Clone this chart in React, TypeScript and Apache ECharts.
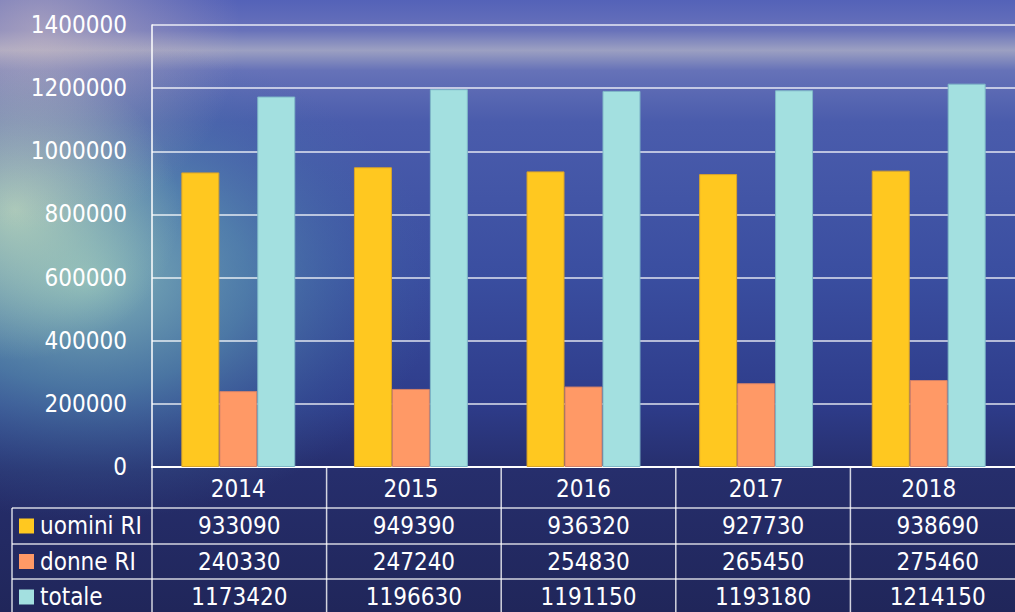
import React, { useEffect, useRef } from "react";
import * as echarts from "echarts";

const years = ["2014", "2015", "2016", "2017", "2018"];
const seriesNames = ["uomini RI", "donne RI", "totale"];
const uomini = [933090, 949390, 936320, 927730, 938690];
const donne = [240330, 247240, 254830, 265450, 275460];
const totale = [1173420, 1196630, 1191150, 1193180, 1214150];
const yMin = 0;
const yMax = 1400000;
const yStep = 200000;

const colors = ["#FFC820", "#FF9966", "#A3E0E0"];
const borders = ["#D9A32A", "#D0806A", "#7FB8C8"];
const FONT = "'DejaVu Sans Condensed', 'DejaVu Sans', sans-serif";

export default function App() {
  const ref = useRef<HTMLDivElement>(null);
  useEffect(() => {
    document.body.style.margin = "0";
    if (!ref.current) return;
    const chart = echarts.init(ref.current, null, { renderer: "svg" });
    const W = 1015;
    const H = 612;
    const G = { left: 152, top: 25, width: 873, height: 442 };
    const cw = G.width / years.length;
    const bottom = G.top + G.height;
    const rowLines = [508, 544, 579];
    const rowCenters = [526, 561.5, 597];
    const dataRows = [uomini, donne, totale];
    const lineStyle = { stroke: "rgba(255,255,255,0.8)", lineWidth: 1.5 };

    const full = { x: 0, y: 0, width: W, height: H };
    const bg: any[] = [
      {
        type: "rect",
        z: -10,
        silent: true,
        shape: full,
        style: {
          fill: new echarts.graphic.LinearGradient(0, 0, 0, 1, [
            { offset: 0, color: "#5462b8" },
            { offset: 0.05, color: "#6872ba" },
            { offset: 0.082, color: "#9ca0c2" },
            { offset: 0.115, color: "#6672b8" },
            { offset: 0.2, color: "#4a5cac" },
            { offset: 0.45, color: "#3a4ea0" },
            { offset: 0.66, color: "#2e3c8a" },
            { offset: 0.77, color: "#262e6c" },
            { offset: 1, color: "#20265a" },
          ]),
        },
      },
      {
        type: "rect",
        z: -9,
        silent: true,
        shape: { x: -260, y: 40, width: 700, height: 480 },
        style: {
          fill: new echarts.graphic.RadialGradient(0.5, 0.5, 0.5, [
            { offset: 0, color: "rgba(150,205,190,0.8)" },
            { offset: 0.45, color: "rgba(95,160,178,0.55)" },
            { offset: 0.8, color: "rgba(70,120,170,0.2)" },
            { offset: 1, color: "rgba(70,110,170,0)" },
          ]),
        },
      },
      {
        type: "rect",
        z: -8,
        silent: true,
        shape: { x: -150, y: 60, width: 330, height: 300 },
        style: {
          fill: new echarts.graphic.RadialGradient(0.5, 0.5, 0.5, [
            { offset: 0, color: "rgba(205,230,190,0.7)" },
            { offset: 1, color: "rgba(190,225,190,0)" },
          ]),
        },
      },
      {
        type: "rect",
        z: -8,
        silent: true,
        shape: full,
        style: {
          fill: new echarts.graphic.RadialGradient(40, 30, 200, [
            { offset: 0, color: "rgba(215,195,195,0.55)" },
            { offset: 1, color: "rgba(200,180,190,0)" },
          ], true),
        },
      },
    ];

    const table: any[] = [];
    rowLines.forEach((y) => {
      table.push({ type: "line", z: 10, silent: true, shape: { x1: 12, y1: y, x2: W, y2: y }, style: lineStyle });
    });
    table.push({ type: "line", z: 10, silent: true, shape: { x1: 12, y1: rowLines[0], x2: 12, y2: H }, style: lineStyle });
    for (let i = 0; i <= years.length; i++) {
      const x = G.left + cw * i;
      table.push({ type: "line", z: 10, silent: true, shape: { x1: x, y1: bottom, x2: x, y2: H }, style: lineStyle });
    }
    seriesNames.forEach((name, r) => {
      const cy = rowCenters[r];
      table.push({
        type: "rect",
        z: 10,
        silent: true,
        shape: { x: 19, y: cy - 7.5, width: 15, height: 15 },
        style: { fill: colors[r] },
      });
      table.push({
        type: "text",
        z: 10,
        silent: true,
        style: { text: name, x: 40, y: cy, fill: "#ffffff", font: `24px ${FONT}`, textAlign: "left", textVerticalAlign: "middle" },
      });
      dataRows[r].forEach((v, i) => {
        table.push({
          type: "text",
          z: 10,
          silent: true,
          style: {
            text: String(v),
            x: G.left + cw * (i + 0.5),
            y: cy,
            fill: "#ffffff",
            font: `24px ${FONT}`,
            textAlign: "center",
            textVerticalAlign: "middle",
          },
        });
      });
    });

    const makeSeries = (name: string, data: number[], i: number) => ({
      name,
      type: "bar",
      data,
      barGap: "0%",
      barCategoryGap: "34%",
      itemStyle: { color: colors[i], borderColor: borders[i], borderWidth: 1 },
    });

    chart.setOption({
      animation: false,
      graphic: [...bg, ...table],
      grid: { left: G.left, top: G.top, width: G.width, height: G.height, containLabel: false },
      xAxis: {
        type: "category",
        data: years,
        axisLine: { show: true, lineStyle: { color: "#ffffff", width: 2 } },
        axisTick: { show: false },
        axisLabel: { color: "#ffffff", fontSize: 24, fontFamily: FONT, margin: 10 },
        splitLine: { show: false },
      },
      yAxis: {
        type: "value",
        min: yMin,
        max: yMax,
        interval: yStep,
        axisLine: { show: true, lineStyle: { color: "#ffffff", width: 1.5 } },
        axisTick: { show: false },
        axisLabel: {
          color: "#ffffff",
          fontSize: 24,
          fontFamily: FONT,
          margin: 25,
          formatter: (v: number) => String(v),
        },
        splitLine: { show: true, lineStyle: { color: "rgba(255,255,255,0.85)", width: 1.5 } },
      },
      series: [
        makeSeries(seriesNames[0], uomini, 0),
        makeSeries(seriesNames[1], donne, 1),
        makeSeries(seriesNames[2], totale, 2),
      ],
    });
    return () => chart.dispose();
  }, []);
  return <div ref={ref} style={{ width: 1015, height: 612 }} />;
}
